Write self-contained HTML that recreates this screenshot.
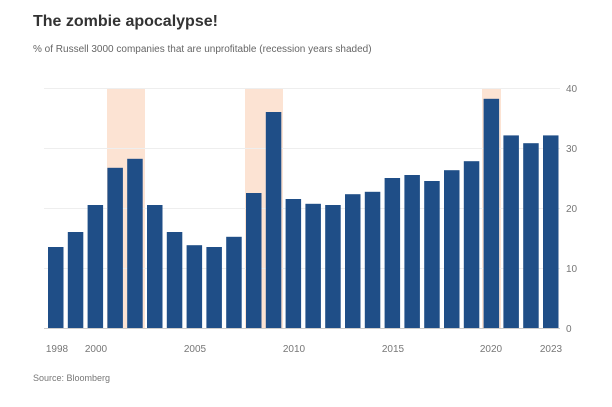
<!DOCTYPE html>
<html><head><style>
body{margin:0;background:#fff;width:612px;height:402px;overflow:hidden;font-family:"Liberation Sans",sans-serif}
</style></head><body>
<svg width="612" height="402" xmlns="http://www.w3.org/2000/svg" font-family="Liberation Sans, sans-serif">
<text x="33" y="26" font-size="16" font-weight="bold" fill="#333">The zombie apocalypse!</text>
<text x="33" y="52" font-size="10" fill="#666">% of Russell 3000 companies that are unprofitable (recession years shaded)</text>
<g fill="#fce3d3">
<rect x="107" y="88" width="38" height="240"/>
<rect x="245" y="88" width="38" height="240"/>
<rect x="482" y="88" width="19" height="240"/>
</g>
<g stroke="#eee" stroke-width="1">
<line x1="44" x2="560" y1="88.5" y2="88.5"/>
<line x1="44" x2="560" y1="148.5" y2="148.5"/>
<line x1="44" x2="560" y1="208.5" y2="208.5"/>
<line x1="44" x2="560" y1="268.5" y2="268.5"/>
</g>
<g font-size="10" fill="#777">
<text x="566" y="92">40</text><text x="566" y="152">30</text><text x="566" y="212">20</text><text x="566" y="272">10</text><text x="566" y="332">0</text>
</g>
<g fill="#1f4e87">
<rect x="48" y="247" width="15.5" height="81"/>
<rect x="67.8" y="232" width="15.5" height="96"/>
<rect x="87.6" y="205" width="15.5" height="123"/>
<rect x="107.4" y="167.8" width="15.5" height="160.2"/>
<rect x="127.2" y="158.8" width="15.5" height="169.2"/>
<rect x="147" y="205" width="15.5" height="123"/>
<rect x="166.8" y="232" width="15.5" height="96"/>
<rect x="186.6" y="245.2" width="15.5" height="82.8"/>
<rect x="206.4" y="247" width="15.5" height="81"/>
<rect x="226.2" y="236.8" width="15.5" height="91.2"/>
<rect x="246" y="193" width="15.5" height="135"/>
<rect x="265.8" y="112" width="15.5" height="216"/>
<rect x="285.6" y="199" width="15.5" height="129"/>
<rect x="305.4" y="203.8" width="15.5" height="124.2"/>
<rect x="325.2" y="205" width="15.5" height="123"/>
<rect x="345" y="194.2" width="15.5" height="133.8"/>
<rect x="364.8" y="191.8" width="15.5" height="136.2"/>
<rect x="384.6" y="178" width="15.5" height="150"/>
<rect x="404.4" y="175" width="15.5" height="153"/>
<rect x="424.2" y="181" width="15.5" height="147"/>
<rect x="444" y="170.2" width="15.5" height="157.8"/>
<rect x="463.8" y="161.2" width="15.5" height="166.8"/>
<rect x="483.6" y="98.8" width="15.5" height="229.2"/>
<rect x="503.4" y="135.4" width="15.5" height="192.6"/>
<rect x="523.2" y="143.2" width="15.5" height="184.8"/>
<rect x="543" y="135.4" width="15.5" height="192.6"/>
</g>
<line x1="44" x2="560" y1="328.5" y2="328.5" stroke="#ccc"/>
<g font-size="10" fill="#777" text-anchor="middle">
<text x="57" y="352">1998</text><text x="96" y="352">2000</text><text x="195" y="352">2005</text><text x="294" y="352">2010</text><text x="393" y="352">2015</text><text x="491" y="352">2020</text><text x="551" y="352">2023</text>
</g>
<text x="33" y="381" font-size="9" fill="#777">Source: Bloomberg</text>
</svg>
</body></html>
